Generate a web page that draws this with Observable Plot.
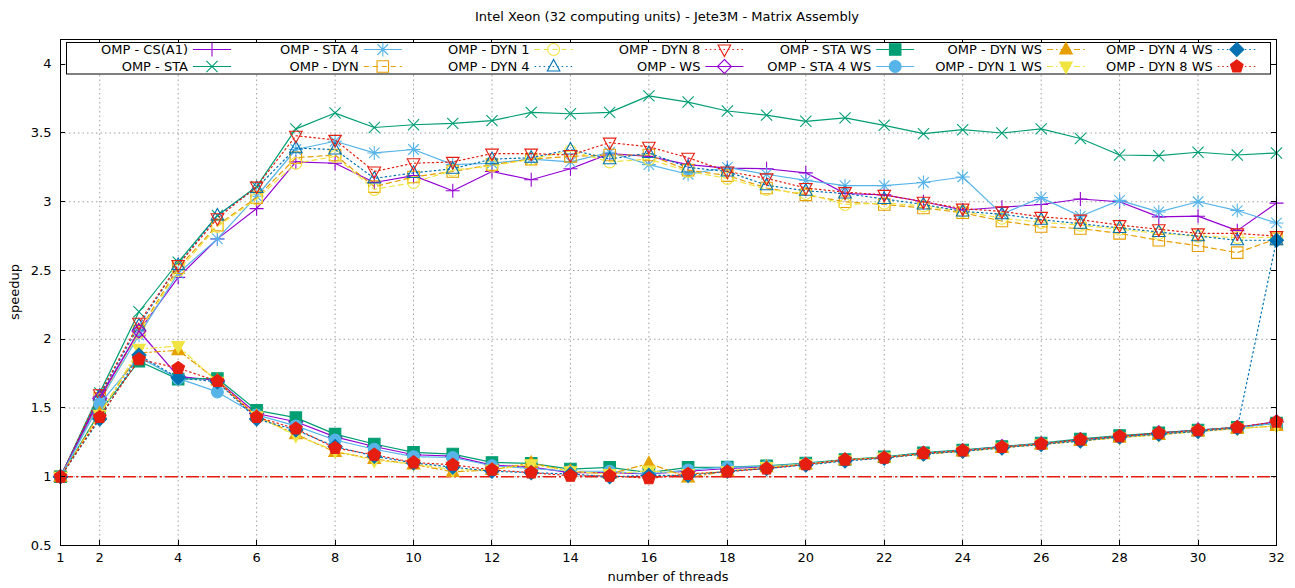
<!DOCTYPE html>
<html><head><meta charset="utf-8">
<script src="https://cdn.jsdelivr.net/npm/d3@7"></script>
<script src="https://cdn.jsdelivr.net/npm/@observablehq/plot@0.6"></script>
<style>
body{margin:0;background:#fff;}
svg{font-family:"DejaVu Sans",sans-serif;}
</style>
</head><body><div id="chart"></div>
<script>
// ---------- data ----------
const threads = d3.range(1, 33);
const xTicks = [1,2,4,6,8,10,12,14,16,18,20,22,24,26,28,30,32];
const yTicks = [0.5,1,1.5,2,2.5,3,3.5,4];
const titleText = "Intel Xeon (32 computing units) - Jete3M - Matrix Assembly";
const xLabel = "number of threads";
const yLabel = "speedup";
const baseline = [1];

const seriesNames = ["OMP - CS(A1)","OMP - STA","OMP - STA 4","OMP - DYN","OMP - DYN 1","OMP - DYN 4","OMP - DYN 8",
  "OMP - WS","OMP - STA WS","OMP - STA 4 WS","OMP - DYN WS","OMP - DYN 1 WS","OMP - DYN 4 WS","OMP - DYN 8 WS"];

const csA1  = [1.0,1.58,2.06,2.45,2.73,2.95,3.29,3.28,3.14,3.19,3.08,3.22,3.16,3.24,3.35,3.33,3.27,3.245,3.24,3.21,3.06,3.05,3.00,2.94,2.96,2.98,3.02,3.00,2.89,2.895,2.79,2.99];
const sta   = [1.0,1.61,2.20,2.56,2.90,3.11,3.53,3.645,3.54,3.56,3.57,3.59,3.65,3.64,3.65,3.77,3.725,3.66,3.63,3.585,3.61,3.556,3.495,3.524,3.50,3.53,3.46,3.34,3.335,3.36,3.34,3.355];
const sta4  = [1.0,1.55,2.03,2.48,2.73,3.04,3.38,3.44,3.355,3.38,3.27,3.28,3.31,3.29,3.36,3.27,3.20,3.25,3.20,3.156,3.117,3.117,3.14,3.18,2.91,3.03,2.895,3.01,2.926,3.00,2.936,2.846];
const dyn   = [1.0,1.57,2.06,2.52,2.83,3.03,3.32,3.34,3.11,3.18,3.22,3.27,3.31,3.33,3.34,3.34,3.23,3.19,3.10,3.05,3.00,2.98,2.955,2.92,2.86,2.82,2.805,2.77,2.72,2.68,2.63,2.73];
const dyn1  = [1.0,1.56,2.05,2.50,2.82,3.02,3.28,3.33,3.09,3.14,3.23,3.26,3.31,3.37,3.29,3.31,3.22,3.17,3.09,3.06,2.98,2.99,2.97,2.93,2.88,2.85,2.83,2.80,2.77,2.75,2.74,2.74];
const dyn4  = [1.0,1.59,2.10,2.54,2.90,3.10,3.39,3.38,3.17,3.21,3.24,3.31,3.32,3.38,3.31,3.355,3.25,3.22,3.12,3.08,3.06,3.02,2.98,2.93,2.91,2.87,2.84,2.81,2.78,2.75,2.72,2.72];
const dyn8  = [1.0,1.60,2.12,2.54,2.88,3.11,3.48,3.45,3.22,3.28,3.29,3.35,3.35,3.34,3.43,3.40,3.32,3.22,3.17,3.10,3.07,3.05,3.00,2.95,2.93,2.89,2.87,2.83,2.80,2.77,2.77,2.75];
const ws    = [1.0,1.57,2.06,1.73,1.70,1.46,1.40,1.29,1.22,1.16,1.15,1.085,1.07,1.03,1.03,1.02,1.04,1.06,1.07,1.09,1.12,1.14,1.17,1.19,1.22,1.24,1.27,1.29,1.32,1.34,1.36,1.40];
const staWs = [1.0,1.47,1.84,1.71,1.715,1.483,1.43,1.31,1.238,1.177,1.165,1.104,1.097,1.056,1.068,1.03,1.068,1.07,1.08,1.10,1.125,1.145,1.175,1.195,1.22,1.245,1.275,1.30,1.32,1.34,1.36,1.39];
const sta4Ws= [1.0,1.53,1.87,1.715,1.617,1.45,1.37,1.267,1.20,1.146,1.14,1.08,1.06,1.04,1.04,1.02,1.05,1.07,1.075,1.095,1.12,1.14,1.17,1.19,1.215,1.24,1.265,1.29,1.31,1.335,1.355,1.39];
const dynWs = [1.0,1.46,1.90,1.92,1.70,1.44,1.31,1.18,1.13,1.09,1.036,1.05,1.10,1.04,1.02,1.097,0.995,1.04,1.07,1.09,1.12,1.14,1.165,1.185,1.21,1.235,1.26,1.285,1.305,1.33,1.35,1.37];
const dyn1Ws= [1.0,1.45,1.93,1.95,1.69,1.44,1.30,1.19,1.117,1.095,1.05,1.05,1.09,1.04,1.02,1.044,1.02,1.04,1.07,1.09,1.12,1.14,1.165,1.185,1.21,1.235,1.26,1.285,1.305,1.33,1.35,1.37];
const dyn4Ws= [1.0,1.42,1.885,1.72,1.69,1.42,1.34,1.22,1.15,1.10,1.07,1.04,1.03,1.02,1.0,1.01,1.01,1.04,1.06,1.085,1.115,1.135,1.165,1.185,1.21,1.235,1.26,1.29,1.31,1.33,1.355,2.72];
const dyn8Ws= [1.0,1.434,1.854,1.79,1.695,1.434,1.35,1.209,1.16,1.104,1.087,1.05,1.03,1.007,1.007,0.988,1.02,1.036,1.06,1.09,1.124,1.138,1.172,1.19,1.216,1.24,1.27,1.294,1.318,1.337,1.36,1.40];

// ---------- styles ----------
const C = {purple:"#9400d3", green:"#009e73", sky:"#56b4e9", orange:"#e69f00", yellow:"#f0e442", blue:"#0072b2", red:"#e51e10"};
const DASH = "5,4", DOT = "1.5,3", DASHDOT = "6,3,1.5,3";
const styles = [
  {v:csA1,  c:C.purple, d:null,   s:"plus",     f:false},
  {v:sta,   c:C.green,  d:null,   s:"times",    f:false},
  {v:sta4,  c:C.sky,    d:null,   s:"asterisk", f:false},
  {v:dyn,   c:C.orange, d:DASH,   s:"square",   f:false},
  {v:dyn1,  c:C.yellow, d:DASH,   s:"circle",   f:false},
  {v:dyn4,  c:C.blue,   d:DOT,    s:"triangle", f:false},
  {v:dyn8,  c:C.red,    d:DOT,    s:"triangleDown", f:false},
  {v:ws,    c:C.purple, d:null,   s:"diamond",  f:false},
  {v:staWs, c:C.green,  d:null,   s:"square",   f:true},
  {v:sta4Ws,c:C.sky,    d:null,   s:"circle",   f:true},
  {v:dynWs, c:C.orange, d:DASHDOT,s:"triangle", f:true},
  {v:dyn1Ws,c:C.yellow, d:DASHDOT,s:"triangleDown", f:true},
  {v:dyn4Ws,c:C.blue,   d:DOT,    s:"diamond",  f:true},
  {v:dyn8Ws,c:C.red,    d:DOT,    s:"pentagon", f:true}
];

function sym(kind){
  return {draw(ctx, size){
    const r = Math.sqrt(size/Math.PI);
    switch(kind){
      case "plus": ctx.moveTo(-r,0);ctx.lineTo(r,0);ctx.moveTo(0,-r);ctx.lineTo(0,r);break;
      case "times": {const s=r*0.8;ctx.moveTo(-s,-s);ctx.lineTo(s,s);ctx.moveTo(-s,s);ctx.lineTo(s,-s);break;}
      case "asterisk": {const s=r*0.75;ctx.moveTo(-r,0);ctx.lineTo(r,0);ctx.moveTo(0,-r);ctx.lineTo(0,r);
        ctx.moveTo(-s,-s);ctx.lineTo(s,s);ctx.moveTo(-s,s);ctx.lineTo(s,-s);break;}
      case "square": {const s=r*0.82;ctx.moveTo(-s,-s);ctx.lineTo(s,-s);ctx.lineTo(s,s);ctx.lineTo(-s,s);ctx.closePath();break;}
      case "circle": {const s=r*0.85;ctx.moveTo(s,0);ctx.arc(0,0,s,0,2*Math.PI);ctx.closePath();break;}
      case "triangle": ctx.moveTo(0,-r);ctx.lineTo(r*0.9,r*0.65);ctx.lineTo(-r*0.9,r*0.65);ctx.closePath();break;
      case "triangleDown": ctx.moveTo(0,r);ctx.lineTo(r*0.9,-r*0.65);ctx.lineTo(-r*0.9,-r*0.65);ctx.closePath();break;
      case "diamond": ctx.moveTo(0,-r);ctx.lineTo(r,0);ctx.lineTo(0,r);ctx.lineTo(-r,0);ctx.closePath();break;
      case "pentagon": for(let k=0;k<5;k++){const a=-Math.PI/2+k*2*Math.PI/5;const px=r*0.95*Math.cos(a),py=r*0.95*Math.sin(a);k?ctx.lineTo(px,py):ctx.moveTo(px,py);}ctx.closePath();break;
    }
  }};
}

const R = 7;
const FS = 13;
const marks = [
  Plot.gridX({ticks: xTicks.filter(t=>t>1&&t<32), stroke:"#a0a0a0", strokeOpacity:1, strokeDasharray:"1.5,3"}),
  Plot.gridY({ticks: yTicks.filter(t=>t>0.5), stroke:"#a0a0a0", strokeOpacity:1, strokeDasharray:"1.5,3"}),
  Plot.ruleY(baseline, {stroke:C.red, strokeWidth:1.3, strokeDasharray:"13,3,2,3"})
];
styles.forEach((st,i)=>{
  const data = threads.map((t,j)=>({t, v: st.v[j]}));
  marks.push(Plot.line(data, {x:"t", y:"v", stroke:st.c, strokeWidth:1.2, strokeDasharray: st.d || undefined}));
  marks.push(Plot.dot(data, {x:"t", y:"v", r:R, symbol: sym(st.s), fill: st.f ? st.c : "none", stroke: st.c, strokeWidth:1.1}));
});
marks.push(
  Plot.frame({stroke:"black", strokeWidth:1}),
  Plot.axisX({ticks:xTicks, tickSize:0, tickPadding:7, label:null, tickFormat:d=>String(d), fontSize:FS}),
  Plot.axisY({ticks:yTicks, tickSize:0, tickPadding:9, label:null, tickFormat:d=>String(d), fontSize:FS})
);

const plot = Plot.plot({
  width:1295, height:588,
  marginTop:39, marginBottom:43, marginLeft:60, marginRight:19,
  x:{domain:[1,32]}, y:{domain:[0.5,4.18]},
  style:{fontFamily:"DejaVu Sans, sans-serif", fontSize:FS+"px", background:"white", color:"black"},
  marks
});
document.getElementById("chart").appendChild(plot);

// ---------- decorations (ticks, labels, legend) ----------
const svg = d3.select(plot);
const sx = plot.scale("x"), sy = plot.scale("y");
const x0 = sx.apply(1), x1 = sx.apply(32), yTop = sy.apply(4.18), yBot = sy.apply(0.5);
const g = svg.append("g").attr("stroke","black").attr("stroke-width",1);
xTicks.forEach(t=>{const X=Math.round(sx.apply(t))+0.5;
  g.append("line").attr("x1",X).attr("x2",X).attr("y1",yBot).attr("y2",yBot-5);
  g.append("line").attr("x1",X).attr("x2",X).attr("y1",yTop).attr("y2",yTop+5);});
yTicks.forEach(t=>{const Y=Math.round(sy.apply(t))+0.5;
  g.append("line").attr("x1",x0).attr("x2",x0+5).attr("y1",Y).attr("y2",Y);
  g.append("line").attr("x1",x1).attr("x2",x1-5).attr("y1",Y).attr("y2",Y);});

svg.append("text").attr("x",667).attr("y",16).attr("text-anchor","middle").attr("dominant-baseline","central")
  .attr("font-size",FS).attr("fill","black").text(titleText);
svg.append("text").attr("x",668).attr("y",576).attr("text-anchor","middle").attr("dominant-baseline","central")
  .attr("font-size",FS).attr("fill","black").text(xLabel);
svg.append("text").attr("transform","translate(14,292) rotate(-90)").attr("text-anchor","middle").attr("dominant-baseline","central")
  .attr("font-size",FS).attr("fill","black").text(yLabel);

const lg = svg.append("g");
lg.append("rect").attr("x",66.5).attr("y",42.5).attr("width",1204).attr("height",31.5).attr("fill","white").attr("stroke","black").attr("stroke-width",1);
styles.forEach((st,i)=>{
  const col = Math.floor(i/2), row = i%2;
  const xe = 188 + col*170.8, yc = 49.5 + row*17;
  lg.append("text").attr("x",xe).attr("y",yc).attr("text-anchor","end").attr("dominant-baseline","central")
    .attr("font-size",FS).attr("fill","black").text(seriesNames[i]);
  lg.append("line").attr("x1",xe+5).attr("x2",xe+43).attr("y1",yc).attr("y2",yc)
    .attr("stroke",st.c).attr("stroke-width",1.2).attr("stroke-dasharray",st.d||null);
  lg.append("path").attr("transform",`translate(${xe+24},${yc})`)
    .attr("d", d3.symbol(sym(st.s), Math.PI*R*R)())
    .attr("fill", st.f ? st.c : "none").attr("stroke", st.c).attr("stroke-width",1.1);
});
</script>
</body></html>
